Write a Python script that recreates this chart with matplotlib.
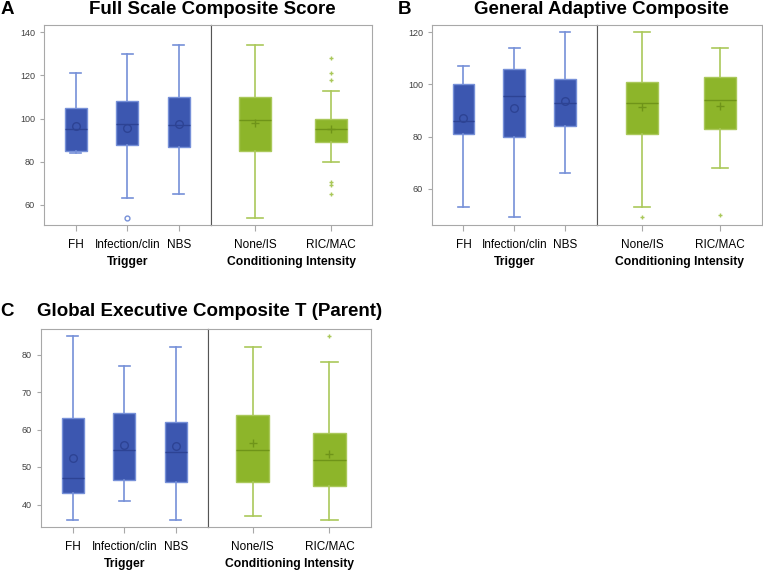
import matplotlib.pyplot as plt

plt.rcParams['font.family'] = ['Liberation Sans', 'DejaVu Sans']

trigger = ['FH', 'Infection/clin', 'NBS']
conditioning = ['None/IS', 'RIC/MAC']

# A: Full Scale Composite Score
A_trig_lo = [84, 63, 65]
A_trig_q1 = [85, 88, 87]
A_trig_med = [95, 97.7, 97]
A_trig_q3 = [105, 108, 110]
A_trig_hi = [121, 130, 134]
A_trig_mean = [96.5, 95.5, 97.7]
A_trig_out = [[], [54], []]
A_cond_lo = [54, 80]
A_cond_q1 = [85, 89]
A_cond_med = [99.2, 95]
A_cond_q3 = [110, 100]
A_cond_hi = [134, 113]
A_cond_mean = [97.8, 95]
A_cond_out = [[], [128, 121, 118, 70.4, 69.3, 65]]

# B: General Adaptive Composite
B_trig_lo = [53, 49, 66]
B_trig_q1 = [81, 80, 84]
B_trig_med = [86, 95.4, 93]
B_trig_q3 = [100, 106, 102]
B_trig_hi = [107, 114, 120]
B_trig_mean = [87, 91, 93.5]
B_trig_out = [[], [], []]
B_cond_lo = [53, 68]
B_cond_q1 = [81, 83]
B_cond_med = [93, 94]
B_cond_q3 = [101, 103]
B_cond_hi = [120, 114]
B_cond_mean = [91.2, 91.7]
B_cond_out = [[49], [50]]

# C: Global Executive Composite T (Parent)
C_trig_lo = [36, 41, 36]
C_trig_q1 = [43, 46.5, 46]
C_trig_med = [47, 54.5, 54]
C_trig_q3 = [63, 64.5, 62]
C_trig_hi = [85, 77, 82]
C_trig_mean = [52.3, 56, 55.5]
C_trig_out = [[], [], []]
C_cond_lo = [37, 36]
C_cond_q1 = [46, 45]
C_cond_med = [54.5, 52]
C_cond_q3 = [64, 59]
C_cond_hi = [82, 78]
C_cond_mean = [56.4, 53.5]
C_cond_out = [[], [85]]

W, H = 763, 573
BLUE = '#3c57b0'
BLUE_LINE = '#7690d8'
BLUE_DARK = '#2d4394'
GREEN = '#8db52a'
GREEN_LINE = '#aac85a'
GREEN_DARK = '#6f9419'
FRAME = '#a8a8a8'
DIVIDER = '#555555'


def stats(lo, q1, med, q3, hi, mean, out):
    res = []
    for i in range(len(lo)):
        res.append(dict(whislo=lo[i], q1=q1[i], med=med[i], q3=q3[i],
                        whishi=hi[i], mean=mean[i], fliers=out[i]))
    return res


def draw_group(ax, st, labels, fill, line, dark, meanmark, outmark, width):
    pos = list(range(len(labels)))
    ax.bxp(st, positions=pos, widths=width, patch_artist=True, showmeans=True,
           boxprops=dict(facecolor=fill, edgecolor=line, linewidth=1),
           whiskerprops=dict(color=line, linewidth=1.2),
           capprops=dict(color=line, linewidth=1.2),
           medianprops=dict(color=dark, linewidth=1),
           meanprops=dict(marker=meanmark, markeredgecolor=dark,
                          markerfacecolor='none', markersize=5.5, linestyle='none'),
           flierprops=dict(marker=outmark, markeredgecolor=line,
                           markerfacecolor='none', markersize=3.5, linestyle='none'))
    ax.set_xticks(pos)
    ax.set_xticklabels(labels, fontsize=8.5)
    ax.tick_params(axis='x', length=4, color=FRAME, pad=6)
    for s in ax.spines.values():
        s.set_color(FRAME)


def panel(box, divider, ylim, yticks, trig, cond, letter, title, letter_x, title_y):
    left, right, top, bottom = box
    h = (bottom - top) / H
    yb = 1 - bottom / H
    ax1 = fig.add_axes([left / W, yb, (divider - left) / W, h])
    ax2 = fig.add_axes([divider / W, yb, (right - divider) / W, h])
    draw_group(ax1, trig, trigger, BLUE, BLUE_LINE, BLUE_DARK, 'o', 'o', 0.43)
    draw_group(ax2, cond, conditioning, GREEN, GREEN_LINE, GREEN_DARK, '+', '+', 0.42)
    ax1.set_xlim(-0.62, 2.63)
    ax2.set_xlim(-0.58, 1.54)
    for ax in (ax1, ax2):
        ax.set_ylim(*ylim)
    ax1.set_yticks(yticks)
    ax1.tick_params(axis='y', labelsize=6.5, labelcolor='#404040', length=3, color=FRAME)
    ax2.set_yticks([])
    ax1.spines['right'].set_color(DIVIDER)
    ax2.spines['left'].set_color(DIVIDER)
    ax1.set_xlabel('Trigger', fontsize=8.7, fontweight='bold', labelpad=4)
    ax2.set_xlabel('Conditioning Intensity', fontsize=8.7, fontweight='bold', labelpad=4)
    cx = (left + right) / 2
    fig.text(letter_x / W, 1 - title_y / H, letter, fontsize=13.5, fontweight='bold',
             ha='left', va='center')
    fig.text((cx + 4) / W, 1 - title_y / H, title, fontsize=13.5, fontweight='bold',
             ha='center', va='center')


fig = plt.figure(figsize=(W / 100, H / 100), dpi=100)

panel((44, 372, 25, 225), 211, (50.7, 143.4), [60, 80, 100, 120, 140],
      stats(A_trig_lo, A_trig_q1, A_trig_med, A_trig_q3, A_trig_hi, A_trig_mean, A_trig_out),
      stats(A_cond_lo, A_cond_q1, A_cond_med, A_cond_q3, A_cond_hi, A_cond_mean, A_cond_out),
      'A', 'Full Scale Composite Score', 1, 9)
panel((432, 762, 25, 225), 597, (46.1, 122.8), [60, 80, 100, 120],
      stats(B_trig_lo, B_trig_q1, B_trig_med, B_trig_q3, B_trig_hi, B_trig_mean, B_trig_out),
      stats(B_cond_lo, B_cond_q1, B_cond_med, B_cond_q3, B_cond_hi, B_cond_mean, B_cond_out),
      'B', 'General Adaptive Composite', 398, 9)
panel((41, 371, 329, 527), 208, (34.0, 86.8), [40, 50, 60, 70, 80],
      stats(C_trig_lo, C_trig_q1, C_trig_med, C_trig_q3, C_trig_hi, C_trig_mean, C_trig_out),
      stats(C_cond_lo, C_cond_q1, C_cond_med, C_cond_q3, C_cond_hi, C_cond_mean, C_cond_out),
      'C', 'Global Executive Composite T (Parent)', 0, 311)

fig.savefig('out.png', dpi=100)
